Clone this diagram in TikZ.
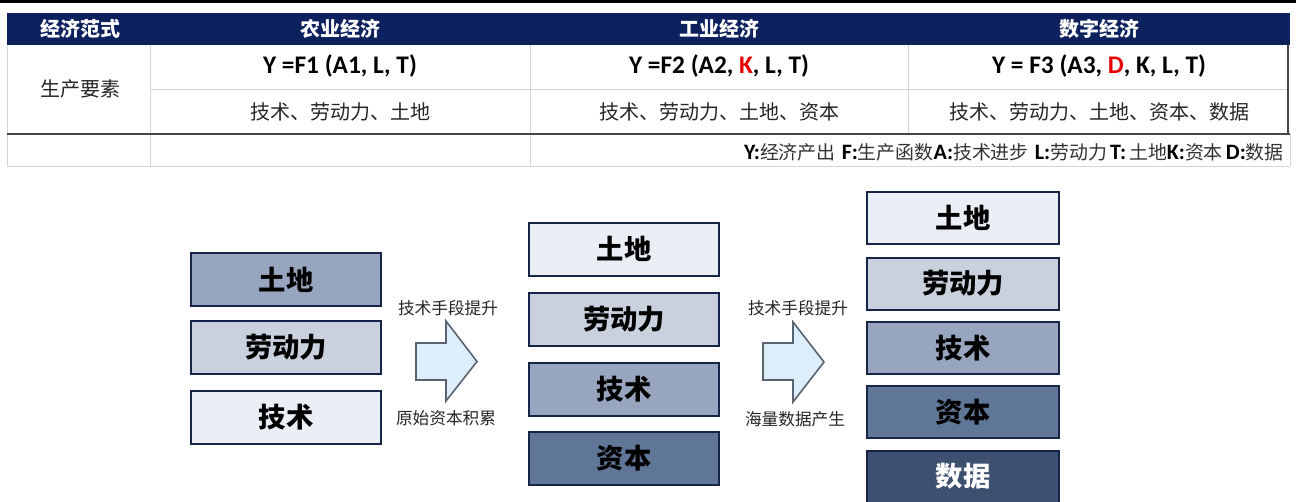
\documentclass[tikz,border=0pt]{standalone}
\usepackage{fontspec}
\setmainfont{Carlito}
\newfontfamily\cjk{Noto Sans CJK SC}
\definecolor{navy}{RGB}{12,33,94}
\definecolor{cA}{RGB}{234,238,245}
\definecolor{cB}{RGB}{201,209,223}
\definecolor{cC}{RGB}{151,166,190}
\definecolor{cD}{RGB}{95,118,150}
\definecolor{cE}{RGB}{62,80,112}
\definecolor{boxline}{RGB}{22,36,72}
\definecolor{arrowfill}{RGB}{221,238,251}
\definecolor{arrowline}{RGB}{90,100,112}
\definecolor{gridc}{RGB}{212,212,212}
\definecolor{fred}{RGB}{230,0,0}
\definecolor{rulec}{RGB}{70,70,70}
\newcommand\lgl[1]{{\fontsize{16.5}{19}\selectfont\bfseries #1}}
\newcommand\lgc[1]{{\cjk\fontsize{14.2}{17}\selectfont\color{black!80}#1}}
\begin{document}
\begin{tikzpicture}[x=0.75pt,y=-0.75pt,
  hdr/.style={text=white,font=\cjk\bfseries\fontsize{15}{18}\selectfont,inner sep=0pt},
  fml/.style={text=black,font=\bfseries\fontsize{19}{22}\selectfont,inner sep=0pt},
  bodytxt/.style={text=black!85,font=\cjk\fontsize{15}{18}\selectfont,inner sep=0pt},
  gridline/.style={draw=gridc,line width=0.75pt},
  stackbox/.style={draw=boxline,line width=1.5pt,minimum width=142.5pt,minimum height=39.75pt,inner sep=0pt,text=black,font=\cjk\bfseries\fontsize{20.5}{24}\selectfont},
  blockarrow/.style={draw=arrowline,fill=arrowfill,line width=1.2pt,line join=miter},
  arrowlbl/.style={text=black!85,font=\cjk\fontsize{12.5}{15}\selectfont,inner sep=0pt}]
\clip (0,0) rectangle (1296,501);
\fill[white] (0,0) rectangle (1296,501);
% top rule
\draw[black,line width=2.4pt] (0,1.6) -- (1296,1.6);
% header band
\fill[navy] (7,13) rectangle (1290,45);
\node[hdr] (h0) at (80,29) {经济范式};
\node[hdr] (h1) at (340,29) {农业经济};
\node[hdr] (h2) at (719,29) {工业经济};
\node[hdr] (h3) at (1099,29) {数字经济};
% grid lines
\draw[gridline] (7,45) -- (7,166);
\draw[gridline] (150,45) -- (150,166);
\draw[gridline] (530,45) -- (530,166);
\draw[gridline] (908,45) -- (908,134);
\draw[gridline] (150,89) -- (1288,89);
\draw[gridline] (7,166) -- (1290,166);
\draw[gridline] (1290,134) -- (1290,166);
\draw[rulec,line width=1pt] (1288,45) -- (1288,134);
\draw[rulec,line width=2pt] (7,134) -- (1290,134);
% row texts
\node[bodytxt] (r0) at (80,89) {生产要素};
\node[fml] (f1) at (340,66) {Y =F1 (A1, L, T)};
\node[fml] (f2) at (719,66) {Y =F2 (A2, \textcolor{fred}{K}, L, T)};
\node[fml] (f3) at (1099,66) {Y = F3 (A3, \textcolor{fred}{D}, K, L, T)};
\node[bodytxt] (b1) at (340,112) {技术、劳动力、土地};
\node[bodytxt] (b2) at (719,112) {技术、劳动力、土地、资本};
\node[bodytxt] (b3) at (1099,112) {技术、劳动力、土地、资本、数据};
% legend
\node[anchor=east,inner sep=0pt,text=black] (lg) at (1284,152) {\lgl{Y:}\lgc{经济产出}\ \ \lgl{F:}\lgc{生产函数}\lgl{A:}\lgc{技术进步}\ \ \lgl{L:}\lgc{劳动力} \lgl{T:} \lgc{土地}\lgl{K:}\lgc{资本} \lgl{D:}\lgc{数据}};
% left stack
\node[stackbox,fill=cC] (a1) at (286,279.5) {土地};
\node[stackbox,fill=cB] (a2) at (286,347.5) {劳动力};
\node[stackbox,fill=cA] (a3) at (286,417.5) {技术};
% middle stack
\node[stackbox,fill=cA] (m1) at (624,249) {土地};
\node[stackbox,fill=cB] (m2) at (624,319.5) {劳动力};
\node[stackbox,fill=cC] (m3) at (624,389.5) {技术};
\node[stackbox,fill=cD] (m4) at (624,458.5) {资本};
% right stack
\node[stackbox,fill=cA,minimum width=144pt,minimum height=39pt] (n1) at (963,218) {土地};
\node[stackbox,fill=cB,minimum width=144pt,minimum height=39pt] (n2) at (963,283.5) {劳动力};
\node[stackbox,fill=cC,minimum width=144pt,minimum height=39pt] (n3) at (963,348) {技术};
\node[stackbox,fill=cD,minimum width=144pt,minimum height=39pt] (n4) at (963,412) {资本};
\node[stackbox,fill=cE,minimum width=144pt,minimum height=39pt,text=white] (n5) at (963,476.5) {数据};
% block arrows
\draw[blockarrow] (416,343) -- (446,343) -- (446,321) -- (477,361.5) -- (446,401) -- (446,380) -- (416,380) -- cycle;
\draw[blockarrow] (763,343) -- (793,343) -- (793,322) -- (824,362) -- (793,402) -- (793,380) -- (763,380) -- cycle;
\node[arrowlbl] (t1) at (448,308) {技术手段提升};
\node[arrowlbl] (t2) at (446,418) {原始资本积累};
\node[arrowlbl] (t3) at (798,308) {技术手段提升};
\node[arrowlbl] (t4) at (795,419) {海量数据产生};
\end{tikzpicture}
\end{document}
